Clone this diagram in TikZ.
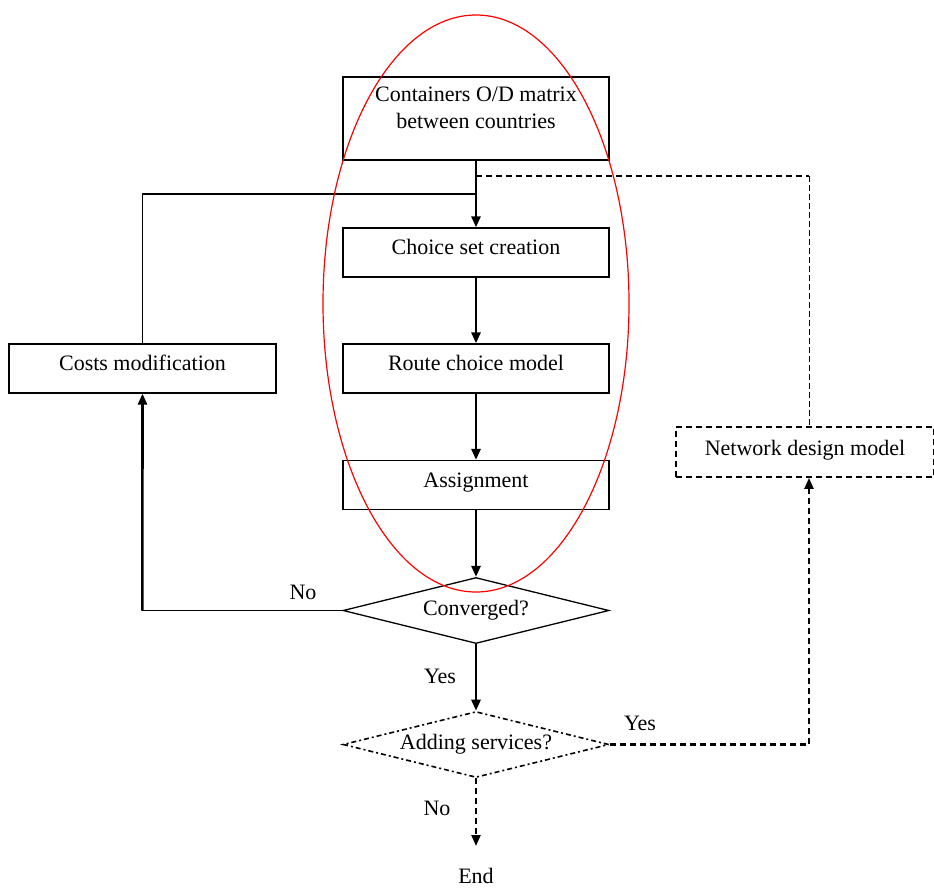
\documentclass[tikz,border=0pt]{standalone}
\usepackage{fontspec}
\setmainfont{Liberation Serif}
\usetikzlibrary{shapes.geometric,arrows.meta}
\tikzset{
  txt/.style={font=\fontsize{22}{27}\selectfont},
  box/.style={draw, line width=1.3pt, minimum width=266pt, minimum height=49pt, inner sep=0pt, align=center, txt, text height=15pt, text depth=11pt},
  dbox/.style={box, dashed, line width=1.8pt, dash pattern=on 6pt off 4pt, text depth=9pt},
  dia/.style={draw, shape=diamond, aspect=4, line width=1.3pt, minimum width=266pt, minimum height=66pt, inner sep=0pt, txt},
  flow/.style={line width=2.6pt, -{Triangle[length=11pt,width=9pt]}},
  dflow/.style={line width=2.2pt, dash pattern=on 6pt off 4pt, -{Triangle[length=11pt,width=9pt]}},
  thin/.style={line width=1.3pt},
  lbl/.style={txt, inner sep=0pt}
}
\begin{document}
\begin{tikzpicture}[x=1pt,y=-1pt]
\useasboundingbox (0,0) rectangle (934,887);
% nodes
\node[box, minimum height=83pt, text height=, text depth=] (od) at (476,118.5) {Containers O/D matrix\\between countries\rule[-21pt]{0pt}{21pt}};
\node[box] (cs) at (476,252.5) {Choice set creation};
\node[box] (rc) at (476,368.5) {Route choice model};
\node[box] (as) at (476,485) {Assignment};
\node[box, minimum width=267pt] (cm) at (142.5,368.5) {Costs modification};
\node[dbox, minimum width=258pt, minimum height=50pt] (nd) at (805,452) {Network design model};
\node[dia] (cv) at (476,610.5) {Converged?};
\node[dia, dashed, dash pattern=on 5pt off 3pt on 2pt off 3pt, line width=1.6pt] (ad) at (476,744.5) {Adding services?};
\node[lbl] (end) at (476,876) {End};
\coordinate (j1) at (476,194);
\coordinate (j2) at (476,176);
\coordinate (c1) at (809,176);
\coordinate (e1) at (476,846);
% connectors
\draw[flow] (od) -- (cs);
\draw[thin] (cm.north) |- (j1);
\draw[line width=1.8pt, dash pattern=on 6pt off 4pt] (j2) -- (c1);
\draw[line width=1pt, dash pattern=on 6pt off 3pt] (c1) -- (c1 |- nd.north);
\draw[flow] (cs) -- (rc);
\draw[flow] (rc) -- (as);
\draw[flow] (as) -- (cv);
\draw[thin] (cv.west) -- ++(-200,0) coordinate (k1);
\draw[flow] (k1) -- (cm.south);
\draw[flow] (cv) -- (ad);
\draw[dflow] (ad.east) -| (nd.south -| c1);
\draw[dflow] (ad) -- (e1);
% labels
\node[lbl] at (303,592) {No};
\node[lbl] at (440,676) {Yes};
\node[lbl] at (640,723) {Yes};
\node[lbl] at (437,808) {No};
% red ellipse
\draw[red, line width=1.2pt] (476,303.5) ellipse [x radius=153, y radius=288.5];
\end{tikzpicture}
\end{document}
